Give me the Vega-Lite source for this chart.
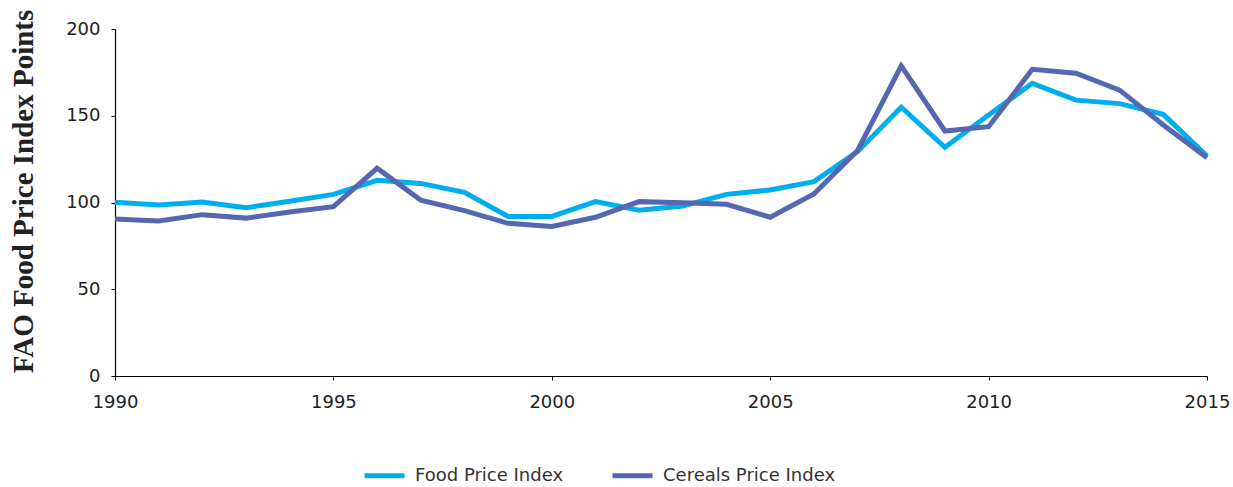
{
  "$schema": "https://vega.github.io/schema/vega-lite/v6.json",
  "width": 1092,
  "height": 347,
  "autosize": "none",
  "padding": {"left": 115, "top": 29, "right": 26, "bottom": 111},
  "background": "white",
  "config": {"view": {"stroke": null}},
  "data": {
    "values": [
      {"year": 1990, "series": "Food Price Index", "value": 100.1},
      {"year": 1991, "series": "Food Price Index", "value": 98.6},
      {"year": 1992, "series": "Food Price Index", "value": 100.3},
      {"year": 1993, "series": "Food Price Index", "value": 97.0},
      {"year": 1994, "series": "Food Price Index", "value": 100.7},
      {"year": 1995, "series": "Food Price Index", "value": 104.7},
      {"year": 1996, "series": "Food Price Index", "value": 112.8},
      {"year": 1997, "series": "Food Price Index", "value": 111.0},
      {"year": 1998, "series": "Food Price Index", "value": 105.9},
      {"year": 1999, "series": "Food Price Index", "value": 92.0},
      {"year": 2000, "series": "Food Price Index", "value": 92.0},
      {"year": 2001, "series": "Food Price Index", "value": 100.5},
      {"year": 2002, "series": "Food Price Index", "value": 95.5},
      {"year": 2003, "series": "Food Price Index", "value": 98.0},
      {"year": 2004, "series": "Food Price Index", "value": 104.7},
      {"year": 2005, "series": "Food Price Index", "value": 107.2},
      {"year": 2006, "series": "Food Price Index", "value": 112.0},
      {"year": 2007, "series": "Food Price Index", "value": 129.3},
      {"year": 2008, "series": "Food Price Index", "value": 154.9},
      {"year": 2009, "series": "Food Price Index", "value": 131.8},
      {"year": 2010, "series": "Food Price Index", "value": 150.4},
      {"year": 2011, "series": "Food Price Index", "value": 168.7},
      {"year": 2012, "series": "Food Price Index", "value": 159.0},
      {"year": 2013, "series": "Food Price Index", "value": 157.0},
      {"year": 2014, "series": "Food Price Index", "value": 150.8},
      {"year": 2015, "series": "Food Price Index", "value": 126.8},
      {"year": 1990, "series": "Cereals Price Index", "value": 90.5},
      {"year": 1991, "series": "Cereals Price Index", "value": 89.3},
      {"year": 1992, "series": "Cereals Price Index", "value": 93.0},
      {"year": 1993, "series": "Cereals Price Index", "value": 91.0},
      {"year": 1994, "series": "Cereals Price Index", "value": 94.5},
      {"year": 1995, "series": "Cereals Price Index", "value": 97.6},
      {"year": 1996, "series": "Cereals Price Index", "value": 119.7},
      {"year": 1997, "series": "Cereals Price Index", "value": 101.4},
      {"year": 1998, "series": "Cereals Price Index", "value": 95.3},
      {"year": 1999, "series": "Cereals Price Index", "value": 88.0},
      {"year": 2000, "series": "Cereals Price Index", "value": 86.2},
      {"year": 2001, "series": "Cereals Price Index", "value": 91.5},
      {"year": 2002, "series": "Cereals Price Index", "value": 100.5},
      {"year": 2003, "series": "Cereals Price Index", "value": 99.9},
      {"year": 2004, "series": "Cereals Price Index", "value": 99.0},
      {"year": 2005, "series": "Cereals Price Index", "value": 91.5},
      {"year": 2006, "series": "Cereals Price Index", "value": 104.9},
      {"year": 2007, "series": "Cereals Price Index", "value": 130.0},
      {"year": 2008, "series": "Cereals Price Index", "value": 178.7},
      {"year": 2009, "series": "Cereals Price Index", "value": 141.2},
      {"year": 2010, "series": "Cereals Price Index", "value": 143.7},
      {"year": 2011, "series": "Cereals Price Index", "value": 176.8},
      {"year": 2012, "series": "Cereals Price Index", "value": 174.5},
      {"year": 2013, "series": "Cereals Price Index", "value": 164.8},
      {"year": 2014, "series": "Cereals Price Index", "value": 144.7},
      {"year": 2015, "series": "Cereals Price Index", "value": 125.8}
    ]
  },
  "mark": {"type": "line", "strokeWidth": 5, "strokeJoin": "miter", "strokeCap": "butt"},
  "encoding": {
    "x": {
      "field": "year", "type": "quantitative",
      "scale": {"domain": [1990, 2015], "nice": false, "zero": false},
      "axis": {
        "title": null, "values": [1990, 1995, 2000, 2005, 2010, 2015], "format": "d",
        "grid": false, "domainColor": "#000", "domainWidth": 1.2, "tickColor": "#000", "tickSize": 4,
        "labelFlush": false, "labelFont": "DejaVu Sans", "labelFontSize": 18, "labelColor": "#222", "labelPadding": 13
      }
    },
    "y": {
      "field": "value", "type": "quantitative",
      "scale": {"domain": [0, 200], "nice": false},
      "axis": {
        "title": "FAO Food Price Index Points", "values": [0, 50, 100, 150, 200],
        "grid": false, "domainColor": "#000", "domainWidth": 1.2, "tickColor": "#000", "tickSize": 4,
        "labelFont": "DejaVu Sans", "labelFontSize": 18, "labelColor": "#222", "labelPadding": 11,
        "titleFont": "Liberation Serif", "titleFontSize": 29, "titleFontWeight": "bold", "titleColor": "#222",
        "titleAngle": -90, "titleAlign": "center", "titleBaseline": "alphabetic", "titleX": -83, "titleY": 162
      }
    },
    "color": {
      "field": "series", "type": "nominal",
      "scale": {"domain": ["Food Price Index", "Cereals Price Index"], "range": ["#00AEEF", "#5567B0"]},
      "legend": {
        "title": null, "orient": "none", "direction": "horizontal", "legendX": 247, "legendY": 424,
        "symbolType": "stroke", "symbolSize": 1600, "symbolStrokeWidth": 5,
        "labelFont": "DejaVu Sans", "labelFontSize": 18, "labelColor": "#333", "labelOffset": 8,
        "labelLimit": 400, "columnPadding": 38
      }
    }
  }
}
